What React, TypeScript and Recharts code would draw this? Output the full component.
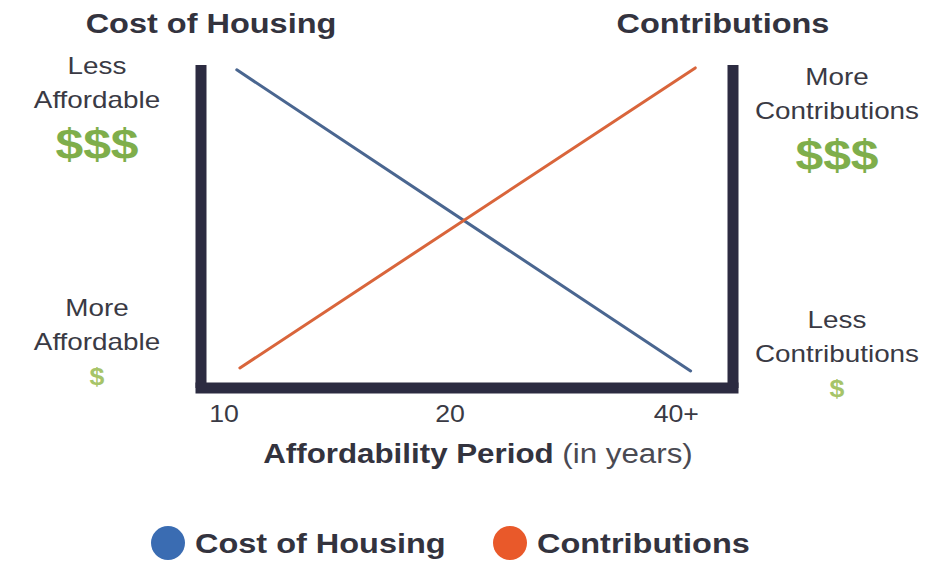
import { LineChart, Line, XAxis, YAxis, Legend } from "recharts";

// values (conceptual chart, y is 0..100)
const housingYears = [10.4, 41.8];
const housingCost = [98.5, 5.3];
const contributionYears = [10.5, 42.4];
const contributionLevel = [6.2, 99.1];

const periodTicks = [10, 20, 40];
const periodTickLabels = ["10", "20", "40+"];

const leftTicks = [11.8, 86.7];
const leftTickLabels = [
  ["More", "Affordable", "$"],
  ["Less", "Affordable", "$$$"],
];
const rightTicks = [8, 83.3];
const rightTickLabels = [
  ["Less", "Contributions", "$"],
  ["More", "Contributions", "$$$"],
];

const seriesNames = ["Cost of Housing", "Contributions"];
const lineColors = ["#4a6690", "#d9653b"];
const legendColors = ["#3a6cb2", "#e9592a"];

const housingData = housingYears.map((year, i) => ({ year, value: housingCost[i] }));
const contributionData = contributionYears.map((year, i) => ({
  year,
  value: contributionLevel[i],
}));

const FONT = '"Liberation Sans", Arial, sans-serif';
const STRETCH = 1.16;
const AXIS_COLOR = "#2c2b41";
const TEXT_COLOR = "#3a3a44";
const TITLE_COLOR = "#33333e";
const GREEN = "#7fae4b";
const LIGHT_GREEN = "#a6c468";

function Stretched({ x, y, size, weight = 400, fill = TEXT_COLOR, anchor = "middle", children }: any) {
  return (
    <text
      transform={`translate(${x} ${y}) scale(${STRETCH} 1)`}
      textAnchor={anchor}
      fontSize={size}
      fontWeight={weight}
      fill={fill}
      fontFamily={FONT}
    >
      {children}
    </text>
  );
}

function SideTick({ x, y, payload, ticks, labels, side }: any) {
  const idx = ticks.indexOf(payload.value);
  if (idx < 0) return null;
  const [first, second, money] = labels[idx];
  const cx = side === "left" ? x - 104 : x + 104;
  const big = money.length > 1;
  return (
    <g>
      <Stretched x={cx} y={y - 34} size={24}>{first}</Stretched>
      <Stretched x={cx} y={y} size={24}>{second}</Stretched>
      <Stretched
        x={cx}
        y={big ? y + 51 : y + 35}
        size={big ? 43 : 23}
        weight={700}
        fill={big ? GREEN : LIGHT_GREEN}
      >
        {money}
      </Stretched>
    </g>
  );
}

function PeriodTick({ x, y, payload }: any) {
  const idx = periodTicks.indexOf(payload.value);
  return (
    <Stretched x={x} y={y + 34} size={23} fill={TEXT_COLOR}>
      {periodTickLabels[idx]}
    </Stretched>
  );
}

function PeriodLabel({ viewBox }: any) {
  const cx = viewBox.x + viewBox.width / 2 + 11;
  return (
    <text
      transform={`translate(${cx} ${viewBox.y + 75}) scale(${STRETCH} 1)`}
      textAnchor="middle"
      fontSize={27}
      fontFamily={FONT}
      fill={TITLE_COLOR}
    >
      <tspan fontWeight={700}>Affordability Period</tspan>
      <tspan fontWeight={400} fill="#4a4a52"> (in years)</tspan>
    </text>
  );
}

function SideTitle({ viewBox, text, side }: any) {
  const cx = side === "left" ? viewBox.x + viewBox.width + 10 : viewBox.x - 10;
  return (
    <Stretched x={cx} y={viewBox.y - 32} size={28} weight={700} fill={TITLE_COLOR}>
      {text}
    </Stretched>
  );
}

const legendItemX = [151, 493];

function renderLegend({ payload }: any) {
  const entries = [...(payload || [])].sort(
    (a: any, b: any) => seriesNames.indexOf(a.value) - seriesNames.indexOf(b.value),
  );
  return (
    <svg width={934} height={36} style={{ display: "block" }}>
      {entries.map((entry: any, i: number) => (
        <g key={entry.value}>
          <circle cx={legendItemX[i] + 17} cy={18} r={17} fill={legendColors[i]} />
          <Stretched
            x={legendItemX[i] + 44}
            y={28}
            size={28}
            weight={700}
            fill={TITLE_COLOR}
            anchor="start"
          >
            {entry.value}
          </Stretched>
        </g>
      ))}
    </svg>
  );
}

export default function App() {
  return (
    <div style={{ position: "absolute", left: 0, top: 0, width: 934, height: 561, background: "#fff" }}>
      <LineChart width={934} height={561} margin={{ top: 65, right: 0, bottom: 0, left: 0 }}>
        <XAxis
          dataKey="year"
          type="number"
          scale="log"
          domain={[9.32, 47.6]}
          allowDataOverflow
          ticks={periodTicks}
          tick={<PeriodTick />}
          tickLine={false}
          tickSize={0}
          tickMargin={0}
          height={137}
          axisLine={{ stroke: AXIS_COLOR, strokeWidth: 11, strokeLinecap: "square" }}
          label={<PeriodLabel />}
        />
        <YAxis
          yAxisId="left"
          orientation="left"
          type="number"
          domain={[0, 100]}
          allowDataOverflow
          width={201}
          ticks={leftTicks}
          tick={(props: any) => (
            <SideTick {...props} ticks={leftTicks} labels={leftTickLabels} side="left" />
          )}
          tickLine={false}
          tickSize={0}
          tickMargin={0}
          axisLine={{ stroke: AXIS_COLOR, strokeWidth: 11 }}
          label={<SideTitle text={seriesNames[0]} side="left" />}
        />
        <YAxis
          yAxisId="right"
          orientation="right"
          type="number"
          domain={[0, 100]}
          allowDataOverflow
          width={201}
          ticks={rightTicks}
          tick={(props: any) => (
            <SideTick {...props} ticks={rightTicks} labels={rightTickLabels} side="right" />
          )}
          tickLine={false}
          tickSize={0}
          tickMargin={0}
          axisLine={{ stroke: AXIS_COLOR, strokeWidth: 11 }}
          label={<SideTitle text={seriesNames[1]} side="right" />}
        />
        <Legend verticalAlign="bottom" content={renderLegend} />
        <Line
          yAxisId="left"
          data={housingData}
          dataKey="value"
          name={seriesNames[0]}
          stroke={lineColors[0]}
          strokeWidth={3}
          strokeLinecap="round"
          dot={false}
          activeDot={false}
          isAnimationActive={false}
        />
        <Line
          yAxisId="right"
          data={contributionData}
          dataKey="value"
          name={seriesNames[1]}
          stroke={lineColors[1]}
          strokeWidth={3}
          strokeLinecap="round"
          dot={false}
          activeDot={false}
          isAnimationActive={false}
        />
      </LineChart>
    </div>
  );
}
